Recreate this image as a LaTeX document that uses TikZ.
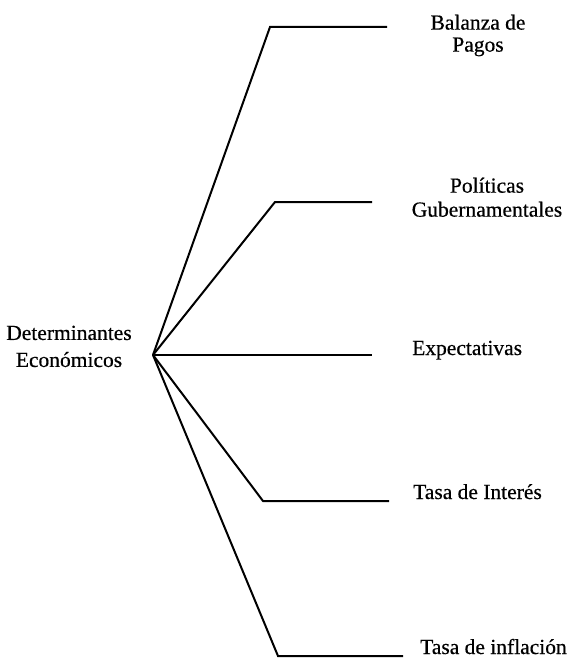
\documentclass[tikz,border=0pt]{standalone}
\usepackage{fontspec}
\setmainfont{Liberation Serif}[FakeBold=0.5]
\newcommand\diagfont{\fontsize{21.5}{22}\selectfont}
\begin{document}
\begin{tikzpicture}[x=1pt,y=-1pt,
  branch/.style={line width=2pt, line join=miter, line cap=butt},
  lbl/.style={inner sep=0pt, font=\diagfont, align=center}]
\useasboundingbox (0,0) rectangle (577,658);

% root of the fan
\coordinate (o) at (153,355);
\node[lbl, anchor=north] (root) at (69,325.5) {Determinantes\\[5pt]Económicos};

% branch corners and ends
\coordinate (c1) at (270,27);  \coordinate (e1) at (387,27);
\coordinate (c2) at (275,202); \coordinate (e2) at (372,202);
\coordinate (e3) at (372,355);
\coordinate (c4) at (263,501); \coordinate (e4) at (389,501);
\coordinate (c5) at (278,656); \coordinate (e5) at (403,656);

\draw[branch] (o) -- (c1) -- (e1);
\draw[branch] (o) -- (c2) -- (e2);
\draw[branch] (o) -- (e3);
\draw[branch] (o) -- (c4) -- (e4);
\draw[branch] (o) -- (c5) -- (e5);

% branch labels
\node[lbl, anchor=north] (b1) at (478,14.5) {Balanza de\\[0pt]Pagos};
\node[lbl, anchor=north] (b2) at (487,177.5) {Políticas\\[2pt]Gubernamentales};
\node[lbl, anchor=base west] (b3) at (412,355) {Expectativas};
\node[lbl, anchor=base west] (b4) at (413,499) {Tasa de Interés};
\node[lbl, anchor=base west] (b5) at (420,654) {Tasa de inflación};
\end{tikzpicture}
\end{document}
